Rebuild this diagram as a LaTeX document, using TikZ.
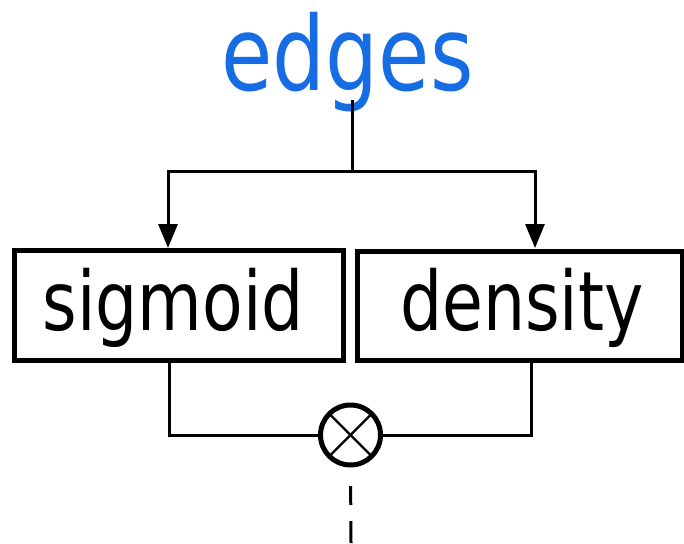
\documentclass[tikz,border=0pt]{standalone}
\usepackage{fontspec}
\setmainfont{DejaVu Sans}[FakeStretch=0.81]
\usetikzlibrary{arrows.meta}
\definecolor{edgeblue}{RGB}{22,108,226}
\begin{document}
\begin{tikzpicture}[x=1pt,y=-1pt,
  boxnode/.style={draw, line width=5pt, rectangle, inner sep=0pt, outer sep=0pt},
  lbl/.style={inner sep=0pt, anchor=base, font=\fontsize{82}{90}\selectfont},
  wire/.style={line width=3pt},
  arr/.style={wire, -{Triangle[length=24pt,width=19pt]}},
  mult/.style={draw, circle, line width=5pt, minimum size=60pt, inner sep=0pt, outer sep=0pt}]
\useasboundingbox (0,0) rectangle (684,543);
% boxes
\node[boxnode, minimum width=328.5pt, minimum height=109.5pt] (sig) at (178.75,305.25) {};
\node[boxnode, minimum width=325pt, minimum height=109pt] (den) at (519.5,305.5) {};
\node[lbl] (sigt) at (173,330) {sigmoid};
\node[lbl] (dent) at (522,330) {density};
% multiplier
\node[mult] (m) at (350.5,435) {};
\draw[line width=2.3pt] (m.north west) -- (m.south east);
\draw[line width=2.3pt] (m.north east) -- (m.south west);
% top split
\coordinate (stem) at (352,100);
\coordinate (split) at (352,171);
\coordinate (out) at (351,543);
\draw[arr] (split) -| ([xshift=-10.75pt,yshift=2.5pt]sig.north);
\draw[arr] (split) -| ([xshift=15.5pt,yshift=3pt]den.north);
% bottom join
\draw[wire] ([xshift=-9.75pt]sig.south) |- (m.west);
\draw[wire] ([xshift=11.5pt]den.south) |- (m.east);
\draw[wire, dash pattern=on 0pt off 21pt on 19pt off 16pt on 60pt] (m.south) -- (out);
% title
\node[inner sep=0pt, anchor=base, text=edgeblue, font=\fontsize{103}{110}\selectfont] (e) at (347.5,90) {edges};
\draw[wire] (stem) -- (split);
\end{tikzpicture}
\end{document}
